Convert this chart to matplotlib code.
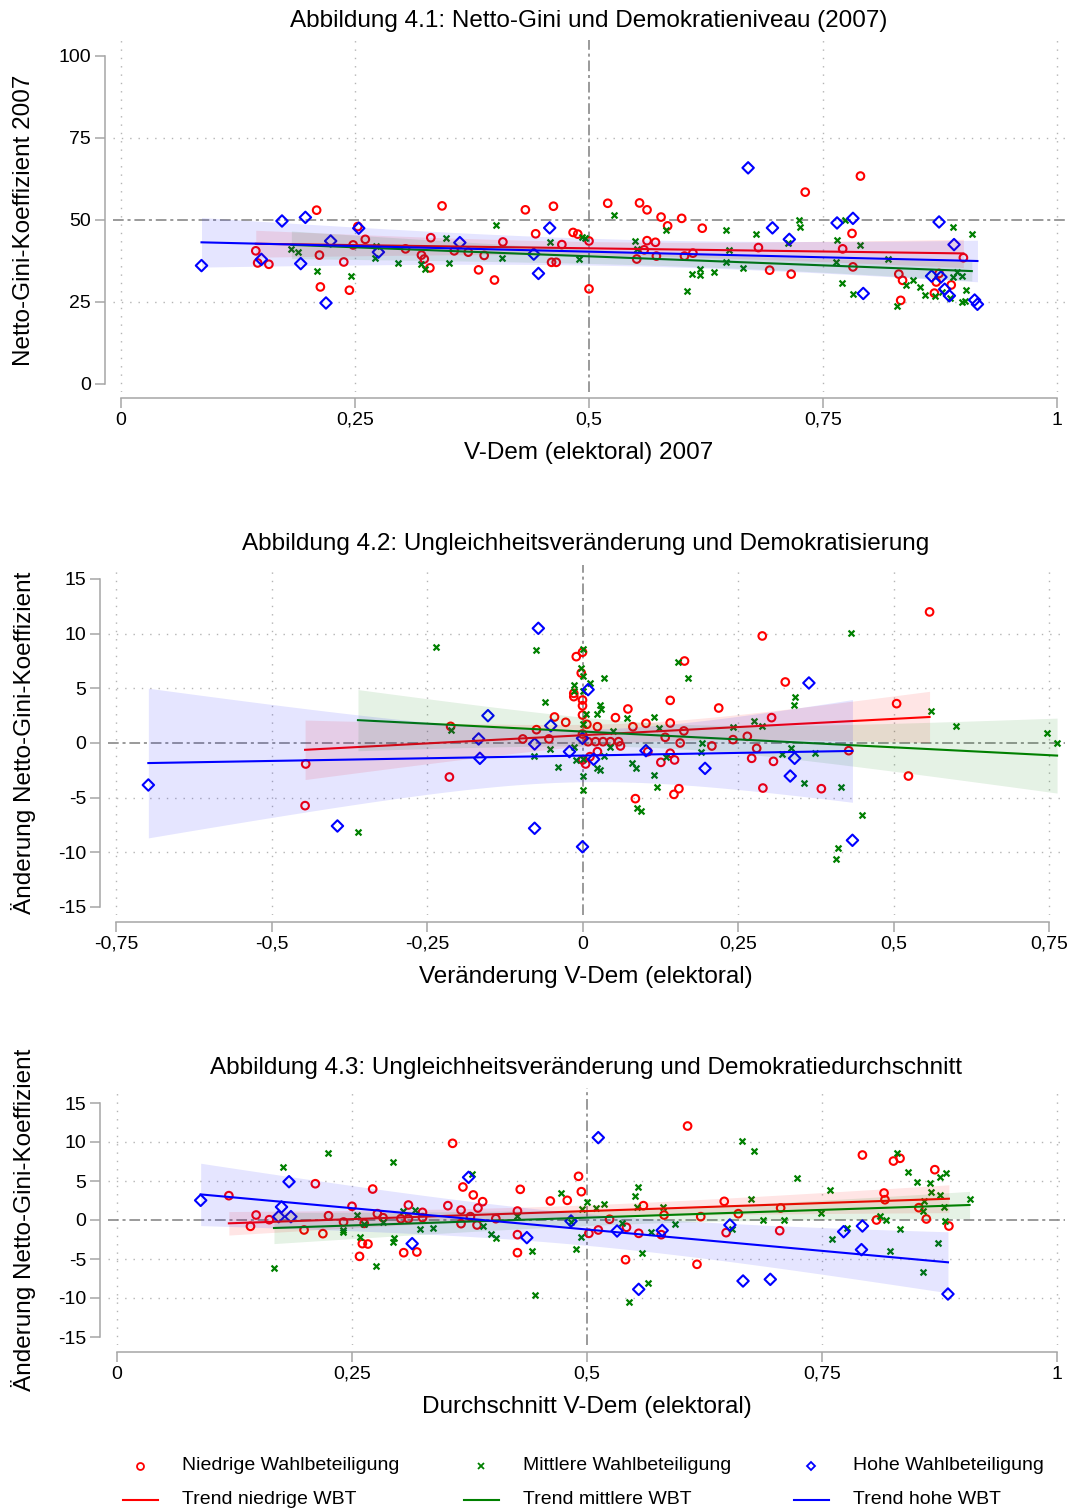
import numpy as np
import matplotlib
matplotlib.use("Agg")
import matplotlib.pyplot as plt

plt.rcParams['font.family'] = ['Liberation Sans', 'DejaVu Sans']

# ---- Abbildung 4.1: V-Dem 2007 vs Netto-Gini 2007
p1_low_x = [0.209,0.144,0.146,0.158,0.213,0.212,0.238,0.244,0.248,0.253,0.261,0.304,0.321,0.324,0.330,0.331,0.343,0.356,0.371,0.382,0.388,0.399,0.408,0.432,0.443,0.462,0.460,0.465,0.471,0.483,0.488,0.500,0.500,0.520,0.554,0.562,0.562,0.571,0.559,0.551,0.572,0.577,0.584,0.599,0.602,0.611,0.621,0.681,0.693,0.716,0.731,0.781,0.771,0.782,0.790,0.831,0.835,0.833,0.874,0.871,0.869,0.887,0.900]
p1_low_y = [53.0,40.6,36.9,36.5,29.6,39.3,37.2,28.6,42.4,48.0,44.1,41.2,39.3,38.1,35.4,44.6,54.3,40.6,40.2,34.8,39.2,31.7,43.3,53.1,45.8,54.2,37.1,37.1,42.5,46.2,45.7,43.6,29.0,55.1,55.2,53.1,43.7,43.2,40.9,38.1,39.0,50.9,48.2,50.5,39.0,39.9,47.5,41.6,34.7,33.5,58.5,45.9,41.2,35.7,63.4,33.5,31.6,25.5,33.7,31.1,27.7,30.2,38.5]
p1_mid_x = [0.182,0.189,0.209,0.246,0.272,0.271,0.296,0.321,0.325,0.347,0.350,0.401,0.407,0.458,0.492,0.496,0.489,0.527,0.549,0.551,0.582,0.605,0.610,0.619,0.619,0.634,0.646,0.650,0.646,0.665,0.678,0.713,0.724,0.725,0.774,0.765,0.790,0.764,0.770,0.782,0.819,0.829,0.839,0.846,0.854,0.859,0.889,0.909,0.870,0.877,0.886,0.889,0.898,0.893,0.903,0.899,0.902]
p1_mid_y = [41.2,40.1,34.5,32.8,42.2,38.3,36.9,36.6,35.2,44.4,37.0,48.6,38.5,43.3,44.7,44.4,38.1,51.5,43.5,41.3,46.8,28.4,33.4,35.1,33.2,34.1,46.8,40.9,37.3,35.3,45.6,42.9,50.0,48.0,50.0,43.8,42.3,37.3,30.7,27.3,38.0,23.7,30.3,31.8,29.7,27.1,48.0,45.6,26.9,28.0,26.1,32.7,32.9,34.1,28.7,24.9,25.4]
p1_high_x = [0.086,0.172,0.197,0.150,0.192,0.219,0.224,0.254,0.275,0.362,0.441,0.446,0.458,0.670,0.696,0.714,0.765,0.782,0.793,0.874,0.890,0.866,0.876,0.880,0.885,0.912,0.915]
p1_high_y = [36.1,49.7,50.8,38.0,36.7,24.7,43.6,47.5,40.2,43.1,39.6,33.7,47.6,65.9,47.6,44.1,49.1,50.5,27.6,49.4,42.5,32.9,32.6,28.9,26.9,25.6,24.3]

# ---- Abbildung 4.2: Veraenderung V-Dem vs Veraenderung Gini
p2_low_x = [-0.445,-0.446,-0.212,-0.214,-0.096,-0.074,-0.054,-0.045,-0.027,-0.014,-0.014,-0.010,0.0,-0.002,0.0,0.0,0.0,0.007,0.024,0.0,0.009,0.021,0.033,0.045,0.053,0.073,0.081,0.058,0.061,0.024,0.012,0.005,0.0,0.085,0.102,0.105,0.133,0.126,0.141,0.148,0.147,0.155,0.141,0.141,0.164,0.163,0.157,0.208,0.219,0.242,0.265,0.280,0.272,0.290,0.289,0.304,0.307,0.326,0.384,0.428,0.505,0.524,0.558]
p2_low_y = [-1.92,-5.73,1.52,-3.11,0.37,1.22,0.37,2.38,1.89,4.24,4.54,7.90,8.30,6.40,3.93,3.41,2.56,1.71,1.49,0.82,0.12,0.12,0.12,0.12,2.32,3.11,1.49,0.12,-0.27,-0.79,-1.25,-1.92,-1.55,-5.09,1.80,-0.79,0.52,-1.77,-0.94,-1.55,-4.70,-4.18,3.90,1.83,7.50,1.10,0.0,-0.27,3.20,0.31,0.61,-0.49,-1.40,-4.12,9.79,2.32,-1.68,5.58,-4.18,-0.70,3.60,-3.02,11.99]
p2_mid_x = [-0.361,-0.235,-0.212,-0.074,-0.061,-0.053,-0.078,-0.040,-0.013,-0.011,-0.013,0.0,-0.003,0.0,0.012,-0.014,0.0,0.006,0.023,0.028,0.030,0.035,0.0,0.072,0.049,0.044,0.0,0.024,0.028,0.035,0.0,0.0,0.080,0.086,0.088,0.094,0.115,0.123,0.115,0.119,0.134,0.154,0.170,0.192,0.190,0.242,0.275,0.289,0.341,0.340,0.321,0.336,0.356,0.373,0.415,0.432,0.411,0.408,0.450,0.561,0.600,0.747,0.763]
p2_mid_y = [-8.11,8.78,1.19,8.48,3.78,-0.55,-1.19,-2.22,-0.34,-1.56,5.31,8.57,6.83,6.10,5.52,4.8,4.79,2.68,2.68,3.48,3.11,5.98,1.74,2.32,1.07,-0.34,-1.49,-2.32,-2.47,-1.19,-3.02,-4.30,-1.86,-2.32,-5.92,-6.19,2.41,1.40,-2.90,-4.00,-1.25,7.38,5.92,0.03,-0.79,1.49,2.01,1.58,4.21,3.51,-1.01,-0.49,-3.69,-0.88,-4.00,10.09,-9.58,-10.61,-6.62,2.96,1.58,0.88,0.0]
p2_high_x = [-0.698,-0.394,-0.152,-0.167,-0.165,-0.071,-0.051,-0.077,-0.077,-0.021,0.009,0.0,0.018,0.0,0.102,0.197,0.341,0.334,0.364,0.434]
p2_high_y = [-3.84,-7.59,2.50,0.37,-1.40,10.49,1.58,-0.09,-7.80,-0.79,4.88,0.43,-1.49,-9.49,-0.70,-2.32,-1.40,-3.02,5.49,-8.90]

# ---- Abbildung 4.3: Durchschnitt V-Dem vs Veraenderung Gini
p3_low_x = [0.119,0.142,0.148,0.162,0.199,0.211,0.219,0.225,0.241,0.250,0.261,0.267,0.258,0.263,0.272,0.277,0.283,0.302,0.305,0.310,0.310,0.319,0.325,0.325,0.352,0.357,0.366,0.366,0.368,0.379,0.376,0.383,0.384,0.389,0.403,0.426,0.426,0.426,0.429,0.461,0.479,0.491,0.494,0.502,0.512,0.524,0.542,0.541,0.560,0.555,0.579,0.582,0.607,0.617,0.621,0.646,0.648,0.661,0.706,0.705,0.793,0.808,0.816,0.817,0.826,0.833,0.853,0.861,0.870,0.885]
p3_low_y = [3.12,-0.81,0.64,0.04,-1.28,4.65,-1.75,0.55,-0.26,1.76,-3.03,-3.08,-4.66,-0.43,3.97,0.81,0.30,0.17,-4.19,1.92,0.17,-4.10,0.98,0.30,1.84,9.83,1.28,-0.47,4.23,3.21,0.43,-0.64,1.54,2.35,0.17,1.15,-1.88,-4.19,3.93,2.44,2.52,5.60,3.63,-1.71,-1.28,0.09,-0.94,-5.09,1.84,-1.71,-1.88,0.64,12.05,-5.68,0.43,2.39,-1.62,0.81,1.54,-1.37,8.33,0.0,3.46,2.60,7.56,7.91,1.58,0.13,6.45,-0.77]
p3_mid_x = [0.167,0.177,0.224,0.240,0.240,0.255,0.258,0.263,0.275,0.283,0.294,0.295,0.294,0.304,0.317,0.322,0.336,0.378,0.389,0.398,0.403,0.426,0.442,0.445,0.472,0.500,0.495,0.483,0.494,0.488,0.510,0.518,0.537,0.554,0.551,0.553,0.559,0.565,0.545,0.568,0.581,0.594,0.654,0.665,0.678,0.674,0.687,0.710,0.723,0.749,0.758,0.761,0.777,0.812,0.818,0.833,0.822,0.830,0.841,0.851,0.859,0.857,0.857,0.865,0.866,0.875,0.882,0.876,0.880,0.873,0.881,0.907]
p3_mid_y = [-6.20,6.84,8.55,-1.32,-1.6,0.68,-2.22,-0.5,-5.85,-0.30,7.44,-2.26,-2.86,1.20,1.28,-1.2,-0.98,5.90,-0.77,-1.84,-2.26,0.51,-4.02,-9.62,3.50,2.31,1.41,-0.3,-2.18,-3.72,1.50,2.05,-0.34,4.27,3.03,1.71,-4.27,-8.03,-10.56,-1.50,1.71,-0.47,-1.2,10.17,8.85,2.74,0.04,0.04,5.34,0.85,3.85,-2.48,-1.07,0.51,0.04,-1.15,-4.02,8.63,6.15,4.83,2.44,1.20,-6.62,4.74,3.55,5.47,6.03,3.16,1.71,-2.99,-0.17,2.74]
p3_high_x = [0.089,0.172,0.175,0.183,0.185,0.314,0.374,0.436,0.483,0.512,0.532,0.555,0.580,0.652,0.666,0.695,0.773,0.793,0.792,0.884]
p3_high_y = [2.52,0.43,1.67,4.91,0.43,-3.03,5.47,-2.26,-0.13,10.56,-1.41,-8.89,-1.33,-0.64,-7.82,-7.61,-1.50,-0.77,-3.80,-9.49]

p1_xticks = [0, 0.25, 0.5, 0.75, 1]
p1_xlabels = ["0", "0,25", "0,5", "0,75", "1"]
p1_yticks = [0, 25, 50, 75, 100]
p2_xticks = [-0.75, -0.5, -0.25, 0, 0.25, 0.5, 0.75]
p2_xlabels = ["-0,75", "-0,5", "-0,25", "0", "0,25", "0,5", "0,75"]
p23_yticks = [-15, -10, -5, 0, 5, 10, 15]

titles = ["Abbildung 4.1: Netto-Gini und Demokratieniveau (2007)",
          "Abbildung 4.2: Ungleichheitsveränderung und Demokratisierung",
          "Abbildung 4.3: Ungleichheitsveränderung und Demokratiedurchschnitt"]
xlabels = ["V-Dem (elektoral) 2007", "Veränderung V-Dem (elektoral)", "Durchschnitt V-Dem (elektoral)"]
ylabels = ["Netto-Gini-Koeffizient 2007", "Änderung Netto-Gini-Koeffizient", "Änderung Netto-Gini-Koeffizient"]
legend_labels = ["Niedrige Wahlbeteiligung", "Mittlere Wahlbeteiligung", "Hohe Wahlbeteiligung",
                 "Trend niedrige WBT", "Trend mittlere WBT", "Trend hohe WBT"]

RED, GREEN, BLUE = "#ff0000", "#008000", "#0000ff"
AXC = "#a6a6a6"
W, H = 1070, 1512

fig = plt.figure(figsize=(W / 100, H / 100), dpi=100)


def px_rect(l, t, r, b):
    return [l / W, 1 - b / H, (r - l) / W, (b - t) / H]


def lim_from_px(lo_px, hi_px, p0, v0, p1, v1):
    k = (v1 - v0) / (p1 - p0)
    return v0 + (lo_px - p0) * k, v0 + (hi_px - p0) * k


def fit_ci(x, y, n=120):
    # linear fit with 95% band of the mean prediction
    x = np.asarray(x, float)
    y = np.asarray(y, float)
    b, a = np.polyfit(x, y, 1)
    xg = np.linspace(x.min(), x.max(), n)
    yh = a + b * xg
    res = y - (a + b * x)
    s = np.sqrt(np.sum(res ** 2) / (len(x) - 2))
    se = s * np.sqrt(1 / len(x) + (xg - x.mean()) ** 2 / np.sum((x - x.mean()) ** 2))
    t = 1.96 + 2.4 / (len(x) - 2)
    return xg, yh, yh - t * se, yh + t * se


def panel(box, xmap, ymap, xticks, xtl, yticks, ytl, refx, refy, groups, off_l, off_b):
    l, t, r, b = box
    ax = fig.add_axes(px_rect(l, t, r, b))
    ax.set_xlim(*lim_from_px(l, r, *xmap))
    ax.set_ylim(*lim_from_px(b, t, *ymap))
    for s in ["top", "right"]:
        ax.spines[s].set_visible(False)
    ax.spines["left"].set_position(("outward", off_l * 0.72))
    ax.spines["bottom"].set_position(("outward", off_b * 0.72))
    ax.spines["left"].set_bounds(yticks[0], yticks[-1])
    ax.spines["bottom"].set_bounds(xticks[0], xticks[-1])
    for s in ["left", "bottom"]:
        ax.spines[s].set_color(AXC)
        ax.spines[s].set_linewidth(1.1)
    ax.set_xticks(xticks, xtl)
    ax.set_yticks(yticks, ytl)
    ax.tick_params(length=7, width=1.1, color=AXC, labelsize=14, pad=3)
    # grid
    for xv in xticks:
        if xv != refx:
            ax.axvline(xv, color="#b4b4b4", lw=1.0, ls=(0, (1, 5)), zorder=1)
    for yv in yticks[1:-1]:
        if yv != refy:
            ax.axhline(yv, color="#b4b4b4", lw=1.0, ls=(0, (1, 5)), zorder=1)
    ax.axvline(refx, color="#7f7f7f", lw=1.1, ls=(0, (7, 2.5, 2, 2.5)), zorder=1.5)
    ax.axhline(refy, color="#7f7f7f", lw=1.1, ls=(0, (7, 2.5, 2, 2.5)), zorder=1.5)
    (lx, ly), (mx, my), (hx, hy) = groups
    ax.scatter(lx, ly, s=30, marker="o", facecolors="none", edgecolors=RED, linewidths=1.5, zorder=2)
    ax.scatter(mx, my, s=18, marker="x", color=GREEN, linewidths=1.6, zorder=2)
    ax.scatter(hx, hy, s=34, marker="D", facecolors="none", edgecolors=BLUE, linewidths=1.5, zorder=2)
    z = 3
    for (gx, gy), col in zip(groups, [RED, GREEN, BLUE]):
        xg, yh, lo, hi = fit_ci(gx, gy)
        ax.fill_between(xg, lo, hi, color=col, alpha=0.1, lw=0, zorder=z)
        ax.plot(xg, yh, color=col, lw=1.5, zorder=z + 0.5)
        z += 1
    return ax


panel((113, 40, 1065, 392), (121, 0, 1057, 1), (384, 0, 56, 100),
      p1_xticks, p1_xlabels, p1_yticks, [str(v) for v in p1_yticks], 0.5, 50,
      [(p1_low_x, p1_low_y), (p1_mid_x, p1_mid_y), (p1_high_x, p1_high_y)], 8, 6)
panel((108, 565, 1065, 915), (116, -0.75, 1049, 0.75), (907, -15, 579, 15),
      p2_xticks, p2_xlabels, p23_yticks, [str(v) for v in p23_yticks], 0, 0,
      [(p2_low_x, p2_low_y), (p2_mid_x, p2_mid_y), (p2_high_x, p2_high_y)], 8, 7)
panel((108, 1088, 1065, 1345), (117, 0, 1057, 1), (1337, -15, 1103, 15),
      p1_xticks, p1_xlabels, p23_yticks, [str(v) for v in p23_yticks], 0.5, 0,
      [(p3_low_x, p3_low_y), (p3_mid_x, p3_mid_y), (p3_high_x, p3_high_y)], 8, 7)

# titles and axis labels
for txt, (x, y) in zip(titles, [(589, 21), (586, 544), (586, 1068)]):
    fig.text(x / W, 1 - y / H, txt, fontsize=17.5, ha="center", va="center")
for txt, (x, y) in zip(xlabels, [(589, 453), (586, 977), (587, 1407)]):
    fig.text(x / W, 1 - y / H, txt, fontsize=17.5, ha="center", va="center")
for txt, (x, y) in zip(ylabels, [(24, 220), (24, 743), (24, 1220)]):
    fig.text(x / W, 1 - y / H, txt, fontsize=17.5, ha="center", va="center", rotation=90)

# legend at the bottom, in pixel coordinates
lg = fig.add_axes([0, 0, 1, 1], zorder=-1)
lg.set_xlim(0, W)
lg.set_ylim(H, 0)
lg.axis("off")
cols = [RED, GREEN, BLUE]
mk = [dict(marker="o", ms=5, mfc="none"), dict(marker="x", ms=4), dict(marker="D", ms=4.5, mfc="none")]
mx_pos = [140, 481, 811]
for i in range(3):
    lg.plot([mx_pos[i]], [1466], ls="none", color=cols[i], mec=cols[i], mew=1.3, **mk[i])
    lg.plot([mx_pos[i] - 17, mx_pos[i] + 18], [1500, 1500], color=cols[i], lw=1.5)
    lg.text(mx_pos[i] + 42, 1466, legend_labels[i], fontsize=14, va="center")
    lg.text(mx_pos[i] + 42, 1500, legend_labels[i + 3], fontsize=14, va="center")

fig.savefig("out.png", dpi=100)
